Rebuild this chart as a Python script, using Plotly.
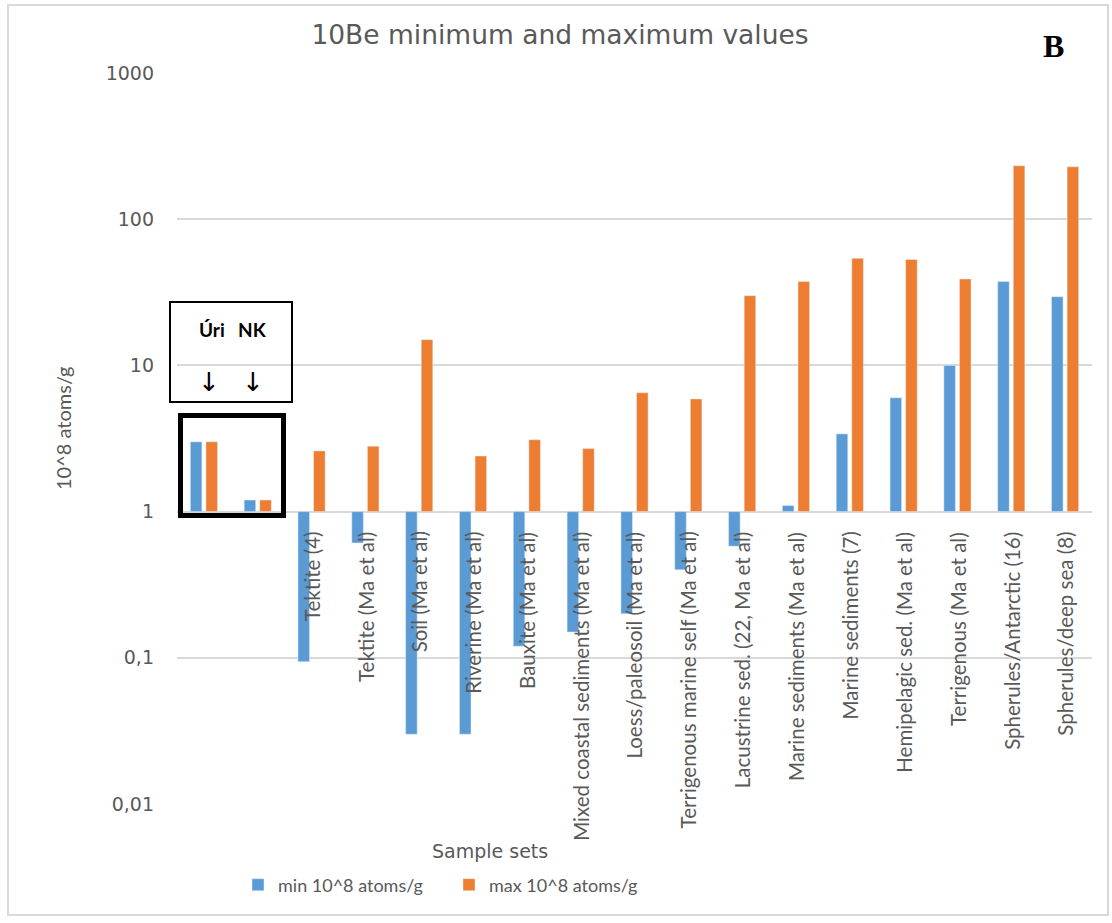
import plotly.graph_objects as go

# Sample sets along the category axis
categories = [
    "Úri", "NK", "Tektite (4)", "Tektite (Ma et al)", "Soil (Ma et al)",
    "Riverine (Ma et al)", "Bauxite (Ma et al)", "Mixed coastal sediments (Ma et al)",
    "Loess/paleosoil (Ma et al)", "Terrigenous marine self (Ma et al)",
    "Lacustrine sed. (22, Ma et al)", "Marine sediments (Ma et al)",
    "Marine sediments (7)", "Hemipelagic sed. (Ma et al)", "Terrigenous (Ma et al)",
    "Spherules/Antarctic (16)", "Spherules/deep sea (8)",
]
# 10Be concentrations, 10^8 atoms/g
min_vals = [3.0, 1.2, 0.094, 0.61, 0.03, 0.03, 0.12, 0.15, 0.2, 0.4,
            0.58, 1.1, 3.4, 6.0, 10, 37.5, 29.5]
max_vals = [3.0, 1.2, 2.6, 2.8, 15, 2.4, 3.1, 2.7, 6.5, 5.9,
            30, 37.5, 54, 53, 39, 232, 228]
tick_vals = [0.01, 0.1, 1, 10, 100, 1000]
tick_text = ["0,01", "0,1", "1", "10", "100", "1000"]

BLUE = "#5b9bd5"
ORANGE = "#ed7d31"
GREY = "#595959"
GRID = "#d9d9d9"

# Bars hang from the value 1 (where the category axis crosses), up or down
BASE = 1.0

# plot area in pixels: left 177, width 915, bottom 804, height 731
def px_x(p):
    return (p - 177) / 915


def px_y(p):
    return (804 - p) / 731


fig = go.Figure()
fig.add_trace(go.Bar(
    name="min 10^8 atoms/g", x=categories, y=[v - BASE for v in min_vals],
    base=BASE, marker_color=BLUE, customdata=min_vals,
    hovertemplate="%{x}<br>min: %{customdata}<extra></extra>", legend="legend",
))
fig.add_trace(go.Bar(
    name="max 10^8 atoms/g", x=categories, y=[v - BASE for v in max_vals],
    base=BASE, marker_color=ORANGE, customdata=max_vals,
    hovertemplate="%{x}<br>max: %{customdata}<extra></extra>", legend="legend2",
))

# Category labels start just below the crossing line at 1
annotations = []
for cat in categories[2:]:
    annotations.append(dict(
        x=cat, y=0, xref="x", yref="y", text=cat, showarrow=False,
        textangle=-90, xanchor="center", yanchor="top", yshift=-18,
        font=dict(family="Lato", size=20.5, color=GREY),
    ))

annotations += [
    dict(x=px_x(212), y=px_y(329), xref="paper", yref="paper", text="<b>Úri</b>",
         showarrow=False, xanchor="center", yanchor="middle",
         font=dict(family="Lato", size=19, color="black")),
    dict(x=px_x(252), y=px_y(329), xref="paper", yref="paper", text="<b>NK</b>",
         showarrow=False, xanchor="center", yanchor="middle",
         font=dict(family="Lato", size=19, color="black")),
    dict(x=px_x(209), y=px_y(382), xref="paper", yref="paper", text="↓",
         showarrow=False, xanchor="center", yanchor="middle",
         font=dict(family="DejaVu Sans", size=26, color="black")),
    dict(x=px_x(253), y=px_y(382), xref="paper", yref="paper", text="↓",
         showarrow=False, xanchor="center", yanchor="middle",
         font=dict(family="DejaVu Sans", size=26, color="black")),
    dict(x=px_x(1053), y=px_y(46), xref="paper", yref="paper", text="<b>B</b>",
         showarrow=False, xanchor="center", yanchor="middle",
         font=dict(family="Liberation Serif", size=32, color="black")),
    dict(x=px_x(63), y=px_y(428), xref="paper", yref="paper", text="10^8 atoms/g",
         showarrow=False, textangle=-90, xanchor="center", yanchor="middle",
         font=dict(family="Lato", size=20, color=GREY)),
    dict(x=px_x(490), y=px_y(851), xref="paper", yref="paper",
         text="Sample sets", showarrow=False, xanchor="center", yanchor="middle",
         font=dict(family="DejaVu Sans", size=19, color=GREY)),
]

shapes = [
    # outer chart frame
    dict(type="rect", xref="paper", yref="paper",
         x0=px_x(8), x1=px_x(1108), y0=px_y(915), y1=px_y(5),
         line=dict(color=GRID, width=2)),
    # label box above the two local samples
    dict(type="rect", xref="paper", yref="paper",
         x0=px_x(170), x1=px_x(292), y0=px_y(402), y1=px_y(302),
         line=dict(color="black", width=2)),
    # heavy frame around the local samples
    dict(type="rect", xref="paper", yref="paper",
         x0=px_x(180.5), x1=px_x(283.5), y0=px_y(515.5), y1=px_y(415.5),
         line=dict(color="black", width=5)),
]

fig.update_layout(
    width=1112, height=923,
    margin=dict(l=177, r=20, t=73, b=119),
    paper_bgcolor="white", plot_bgcolor="white",
    barmode="group", bargap=0.42, bargroupgap=0.26,
    title=dict(text="10Be minimum and maximum values", x=560 / 1112, xanchor="center",
               y=1 - 35 / 923, yanchor="middle", yref="container",
               font=dict(family="DejaVu Sans", size=26.5, color=GREY)),
    xaxis=dict(type="category", showticklabels=False, showgrid=False, showline=False,
               zeroline=False, ticks=""),
    yaxis=dict(type="log", range=[-2, 3], tickvals=tick_vals, ticktext=tick_text,
               showgrid=True, gridcolor=GRID, gridwidth=1.5, zeroline=False,
               showline=False, ticks="", ticklabelstandoff=22,
               tickfont=dict(family="DejaVu Sans", size=19, color=GREY)),
    legend=dict(orientation="h", x=px_x(238), y=px_y(885),
                xanchor="left", yanchor="middle",
                font=dict(family="Lato", size=18, color=GREY)),
    legend2=dict(orientation="h", x=px_x(449), y=px_y(885),
                 xanchor="left", yanchor="middle",
                 font=dict(family="Lato", size=18, color=GREY)),
    annotations=annotations,
    shapes=shapes,
    showlegend=True,
)

fig.write_html("out.html")
